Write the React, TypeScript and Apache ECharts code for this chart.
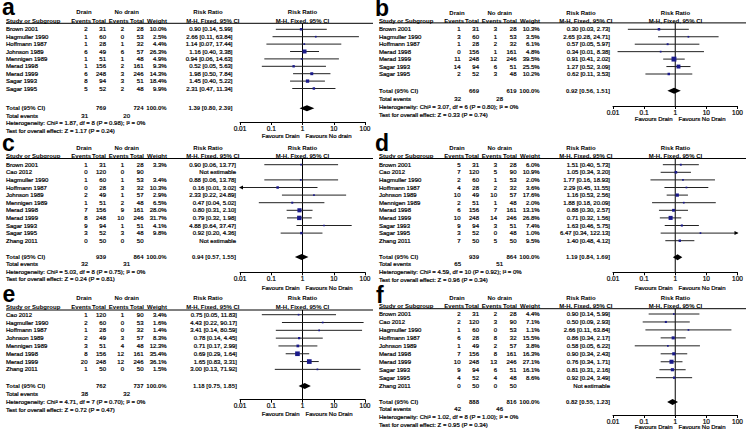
import React, { useEffect, useRef } from "react";
import * as echarts from "echarts";

// ---------------- DATA ----------------
// Panel a
const A_study = ["Brown 2001", "Hagmuller 1990", "Hoffmann 1987", "Johnson 1989", "Mennigen 1989", "Merad 1998", "Merad 1999", "Sagar 1993", "Sagar 1995"];
const A_drainEv = [2, 1, 1, 6, 1, 1, 6, 8, 5];
const A_drainN = [31, 60, 28, 49, 51, 156, 248, 94, 52];
const A_noEv = [2, 0, 1, 6, 1, 2, 3, 3, 2];
const A_noN = [28, 53, 32, 57, 48, 161, 246, 51, 48];
const A_weight = [10.0, 2.5, 4.4, 26.3, 4.9, 9.3, 14.3, 18.4, 9.9];
const A_rr = [0.90, 2.66, 1.14, 1.16, 0.94, 0.52, 1.98, 1.45, 2.31];
const A_lo = [0.14, 0.11, 0.07, 0.40, 0.06, 0.05, 0.50, 0.40, 0.47];
const A_hi = [5.99, 63.84, 17.44, 3.38, 14.63, 5.63, 7.84, 5.22, 11.34];
const A_total = [769, 724, 100.0, 1.39, 0.80, 2.39]; // drain N, no-drain N, weight, RR, lo, hi
const A_events = [31, 20];
const A_het = [1.87, 8, 0.98, 0]; // chi2, df, P, I2
const A_test = [1.17, 0.24]; // Z, P

// Panel b
const B_study = ["Brown 2001", "Hagmuller 1990", "Hoffmann 1987", "Merad 1998", "Merad 1999", "Sagar 1993", "Sagar 1995"];
const B_drainEv = [1, 3, 1, 0, 11, 14, 2];
const B_drainN = [31, 60, 28, 156, 248, 94, 52];
const B_noEv = [3, 1, 2, 1, 12, 6, 3];
const B_noN = [28, 53, 32, 161, 246, 51, 48];
const B_weight = [10.3, 3.5, 6.1, 4.8, 39.5, 25.5, 10.2];
const B_rr = [0.30, 2.65, 0.57, 0.34, 0.91, 1.27, 0.62];
const B_lo = [0.03, 0.28, 0.05, 0.014, 0.41, 0.52, 0.11];
const B_hi = [2.73, 24.71, 5.97, 8.38, 2.02, 3.09, 3.53];
const B_total = [669, 619, 100.0, 0.92, 0.56, 1.51];
const B_events = [32, 28];
const B_het = [3.07, 6, 0.80, 0];
const B_test = [0.33, 0.74];

// Panel c
const C_study = ["Brown 2001", "Cao 2012", "Hagmuller 1990", "Hoffmann 1987", "Johnson 1989", "Mennigen 1989", "Merad 1998", "Merad 1999", "Sagar 1993", "Sagar 1995", "Zhang 2011"];
const C_drainEv = [1, 0, 1, 0, 2, 1, 7, 8, 9, 3, 0];
const C_drainN = [31, 120, 60, 28, 49, 51, 156, 248, 94, 52, 50];
const C_noEv = [1, 0, 1, 3, 1, 2, 9, 10, 1, 3, 0];
const C_noN = [28, 90, 53, 32, 57, 48, 161, 246, 51, 48, 50];
const C_weight = [3.3, null, 3.4, 10.3, 2.9, 6.5, 28.0, 31.7, 4.1, 9.8, null];
const C_rr = [0.90, null, 0.88, 0.16, 2.33, 0.47, 0.80, 0.79, 4.88, 0.92, null];
const C_lo = [0.06, null, 0.06, 0.0085, 0.22, 0.04, 0.31, 0.32, 0.64, 0.20, null];
const C_hi = [13.77, null, 13.78, 3.02, 24.89, 5.02, 2.10, 1.98, 37.47, 4.36, null];
const C_total = [939, 864, 100.0, 0.94, 0.57, 1.55];
const C_events = [32, 31];
const C_het = [5.03, 8, 0.75, 0];
const C_test = [0.24, 0.81];

// Panel d
const D_study = ["Brown 2001", "Cao 2012", "Hagmuller 1990", "Hoffmann 1987", "Johnson 1989", "Mennigen 1989", "Merad 1998", "Merad 1999", "Sagar 1993", "Sagar 1995", "Zhang 2011"];
const D_drainEv = [5, 7, 2, 4, 10, 2, 6, 10, 9, 3, 7];
const D_drainN = [31, 120, 60, 28, 49, 51, 156, 248, 94, 52, 50];
const D_noEv = [3, 5, 1, 2, 10, 1, 7, 14, 3, 0, 5];
const D_noN = [28, 90, 53, 32, 57, 48, 161, 246, 51, 48, 50];
const D_weight = [6.0, 10.9, 2.0, 3.6, 17.6, 2.0, 13.1, 26.8, 7.4, 1.0, 9.5];
const D_rr = [1.51, 1.05, 1.77, 2.29, 1.16, 1.88, 0.88, 0.71, 1.63, 6.47, 1.40];
const D_lo = [0.40, 0.34, 0.16, 0.45, 0.53, 0.18, 0.30, 0.32, 0.46, 0.34, 0.48];
const D_hi = [5.73, 3.20, 18.93, 11.55, 2.56, 20.09, 2.57, 1.56, 5.75, 122.13, 4.12];
const D_total = [939, 864, 100.0, 1.19, 0.84, 1.69];
const D_events = [65, 51];
const D_het = [4.59, 10, 0.92, 0];
const D_test = [0.96, 0.34];

// Panel e
const E_study = ["Cao 2012", "Hagmuller 1990", "Hoffmann 1987", "Johnson 1989", "Mennigen 1989", "Merad 1998", "Merad 1999", "Zhang 2011"];
const E_drainEv = [1, 2, 1, 2, 3, 8, 20, 1];
const E_drainN = [120, 60, 28, 49, 51, 156, 248, 50];
const E_noEv = [1, 0, 0, 3, 4, 12, 12, 0];
const E_noN = [90, 53, 32, 57, 48, 161, 246, 50];
const E_weight = [3.4, 1.6, 1.4, 8.3, 12.3, 35.4, 36.1, 1.5];
const E_rr = [0.75, 4.43, 3.41, 0.78, 0.71, 0.69, 1.65, 3.00];
const E_lo = [0.05, 0.22, 0.14, 0.14, 0.17, 0.29, 0.83, 0.13];
const E_hi = [11.83, 90.17, 80.59, 4.45, 2.99, 1.64, 3.31, 71.92];
const E_total = [762, 737, 100.0, 1.18, 0.75, 1.85];
const E_events = [38, 32];
const E_het = [4.71, 7, 0.70, 0];
const E_test = [0.72, 0.47];

// Panel f
const F_study = ["Brown 2001", "Cao 2012", "Hagmuller 1990", "Hoffmann 1987", "Johnson 1989", "Merad 1998", "Merad 1999", "Sagar 1993", "Sagar 1995", "Zhang 2011"];
const F_drainEv = [2, 2, 1, 6, 1, 7, 10, 9, 4, 0];
const F_drainN = [31, 120, 60, 28, 49, 156, 248, 94, 52, 50];
const F_noEv = [2, 3, 0, 8, 2, 8, 13, 6, 4, 0];
const F_noN = [28, 90, 53, 32, 57, 161, 246, 51, 48, 50];
const F_weight = [4.4, 7.1, 1.1, 15.5, 3.8, 16.3, 27.1, 16.1, 8.6, null];
const F_rr = [0.90, 0.50, 2.66, 0.86, 0.58, 0.90, 0.76, 0.81, 0.92, null];
const F_lo = [0.14, 0.09, 0.11, 0.34, 0.05, 0.34, 0.34, 0.31, 0.24, null];
const F_hi = [5.99, 2.93, 63.84, 2.17, 6.22, 2.43, 1.71, 2.16, 3.49, null];
const F_total = [888, 816, 100.0, 0.82, 0.55, 1.23];
const F_events = [42, 46];
const F_het = [1.02, 8, 1.00, 0];
const F_test = [0.95, 0.34];

const PANEL_LETTERS = ["a", "b", "c", "d", "e", "f"];
const FAVOURS_LEFT = "Favours Drain";
const FAVOURS_RIGHT = ["Favours No drain", "Favours No Drain", "Favours No Drain", "Favours No Drain", "Favours No Drain", "Favours No Drain"];
const AXIS_MIN = 0.01;
const AXIS_MAX = 100;

// ---------------- LAYOUT ----------------
const FONT = '"Liberation Sans", Arial, Helvetica, sans-serif';
const PLOT_LEFT = 240;
const PLOT_W = 125;
const COL = {
  name: 6, dEv: 87.5, dN: 106, nEv: 124, nN: 143.5, w: 166.7,
  totEvD: 88, totEvN: 130,
  hdrDrain: 84, hdrNo: 126.7, hdrRR: 208,
  hEvD: 91, hTotD: 106, hEvN: 128.5, hTotN: 144, hW: 167, hCI: 239.5,
};
const LAYOUT = [
  { ox: 0, lx: 2, ly: 6.5, h1: 12.3, h2: 20.7, ul: 23.3, r0: 29.3, pitch: 7.4, tot: 108.3, ev: 116, het: 123.3, test: 131, axis: 122, fav: 136, ciR: 232.5 },
  { ox: 373, lx: 375, ly: 7.5, h1: 12.7, h2: 20.7, ul: 22.9, r0: 29.3, pitch: 7.45, tot: 90.7, ev: 99.3, het: 106.7, test: 115, axis: 106, fav: 119.3, ciR: 237 },
  { ox: 0, lx: 2, ly: 143, h1: 148, h2: 156, ul: 158.5, r0: 164.7, pitch: 7.6, tot: 257, ev: 264.3, het: 271.7, test: 279.3, axis: 272.3, fav: 287.5, ciR: 236 },
  { ox: 373, lx: 375, ly: 143.3, h1: 148, h2: 156, ul: 158.5, r0: 164.7, pitch: 7.6, tot: 257.3, ev: 264.3, het: 272, test: 279.7, axis: 272.3, fav: 287.5, ciR: 237 },
  { ox: 0, lx: 2.5, ly: 294, h1: 298, h2: 307, ul: 310, r0: 314.7, pitch: 7.81, tot: 386, ev: 394, het: 402, test: 410, axis: 399.7, fav: 413.7, ciR: 237 },
  { ox: 373, lx: 376, ly: 295, h1: 298, h2: 306.3, ul: 308.7, r0: 314, pitch: 7.96, tot: 402, ev: 409, het: 416.7, test: 424.7, axis: 415, fav: 427.3, ciR: 237 },
];

type Panel = {
  study: string[]; dEv: number[]; dN: number[]; nEv: number[]; nN: number[];
  w: (number | null)[]; rr: (number | null)[]; lo: (number | null)[]; hi: (number | null)[];
  total: number[]; events: number[]; het: number[]; test: number[];
};

const PANELS: Panel[] = [
  { study: A_study, dEv: A_drainEv, dN: A_drainN, nEv: A_noEv, nN: A_noN, w: A_weight, rr: A_rr, lo: A_lo, hi: A_hi, total: A_total, events: A_events, het: A_het, test: A_test },
  { study: B_study, dEv: B_drainEv, dN: B_drainN, nEv: B_noEv, nN: B_noN, w: B_weight, rr: B_rr, lo: B_lo, hi: B_hi, total: B_total, events: B_events, het: B_het, test: B_test },
  { study: C_study, dEv: C_drainEv, dN: C_drainN, nEv: C_noEv, nN: C_noN, w: C_weight, rr: C_rr, lo: C_lo, hi: C_hi, total: C_total, events: C_events, het: C_het, test: C_test },
  { study: D_study, dEv: D_drainEv, dN: D_drainN, nEv: D_noEv, nN: D_noN, w: D_weight, rr: D_rr, lo: D_lo, hi: D_hi, total: D_total, events: D_events, het: D_het, test: D_test },
  { study: E_study, dEv: E_drainEv, dN: E_drainN, nEv: E_noEv, nN: E_noN, w: E_weight, rr: E_rr, lo: E_lo, hi: E_hi, total: E_total, events: E_events, het: E_het, test: E_test },
  { study: F_study, dEv: F_drainEv, dN: F_drainN, nEv: F_noEv, nN: F_noN, w: F_weight, rr: F_rr, lo: F_lo, hi: F_hi, total: F_total, events: F_events, het: F_het, test: F_test },
];

const ciText = (r: number, l: number, h: number) => `${r.toFixed(2)} [${l.toFixed(2)}, ${h.toFixed(2)}]`;

function textEl(s: string, x: number, y: number, align: string, bold = false, size = 6) {
  const style: any = {
    text: s, font: `${bold ? "bold " : ""}${size}px ${FONT}`, fill: "#000",
    align, verticalAlign: "middle", textAlign: align, textVerticalAlign: "middle",
  };
  if (!bold) {
    style.stroke = "#000";
    style.lineWidth = 0.22;
  }
  return { type: "text", x, y, silent: true, style };
}

function buildOption() {
  const grid: any[] = [];
  const xAxis: any[] = [];
  const yAxis: any[] = [];
  const series: any[] = [];
  const elements: any[] = [];

  PANELS.forEach((P, p) => {
    const L = LAYOUT[p];
    const n = P.study.length;
    const ymin = -(L.r0 - L.ul) / L.pitch;
    const ymax = ymin + (L.axis - L.ul) / L.pitch;
    const tIdx = (L.tot - L.r0) / L.pitch;

    grid.push({ left: L.ox + PLOT_LEFT, top: L.ul, width: PLOT_W, height: L.axis - L.ul });
    xAxis.push({
      type: "log", logBase: 10, gridIndex: p, min: AXIS_MIN, max: AXIS_MAX, splitNumber: 4,
      axisLine: { show: true, onZero: false, lineStyle: { color: "#000", width: 1 } },
      axisTick: { show: true, length: 3, lineStyle: { color: "#000", width: 1 } },
      axisLabel: {
        show: true, fontSize: 6.5, color: "#000", margin: 2.5, fontFamily: FONT,
        textBorderColor: "#000", textBorderWidth: 0.2,
        formatter: (v: number) => String(parseFloat(Number(v).toPrecision(3))),
      },
      splitLine: { show: false },
    });
    yAxis.push({ type: "value", gridIndex: p, inverse: true, min: ymin, max: ymax, show: false });

    // vertical line of no effect (RR = 1)
    series.push({
      type: "line", xAxisIndex: p, yAxisIndex: p, data: [[1, ymin], [1, ymax]],
      symbol: "none", silent: true, z: 1, lineStyle: { color: "#000", width: 1 },
    });

    const data: number[][] = P.study.map((_, i) => [P.rr[i] ?? 1, i]);
    data.push([P.total[3], tIdx]);

    series.push({
      type: "custom", xAxisIndex: p, yAxisIndex: p, clip: false, z: 2, silent: true,
      data,
      renderItem: (params: any, api: any) => {
        const i = params.dataIndex;
        const yv = api.value(1);
        const y = api.coord([1, yv])[1];
        const ch: any[] = [];
        const T = (s: string, cx: number, align: string, bold = false) => ch.push(textEl(s, L.ox + cx, y, align, bold));
        if (i < n) {
          T(P.study[i], COL.name, "left");
          T(String(P.dEv[i]), COL.dEv, "right");
          T(String(P.dN[i]), COL.dN, "right");
          T(String(P.nEv[i]), COL.nEv, "right");
          T(String(P.nN[i]), COL.nN, "right");
          const rr = P.rr[i], lo = P.lo[i], hi = P.hi[i], w = P.w[i];
          if (rr == null || lo == null || hi == null || w == null) {
            T("Not estimable", L.ciR, "right");
          } else {
            T(w.toFixed(1) + "%", COL.w, "right");
            T(ciText(rr, lo, hi), L.ciR, "right");
            const xl = api.coord([Math.max(lo, AXIS_MIN), yv])[0];
            const xh = api.coord([Math.min(hi, AXIS_MAX), yv])[0];
            ch.push({ type: "line", shape: { x1: xl, y1: y, x2: xh, y2: y }, style: { stroke: "#222", lineWidth: 1 } });
            if (hi > AXIS_MAX) {
              ch.push({ type: "polygon", shape: { points: [[xh + 1, y], [xh - 3, y - 2], [xh - 3, y + 2]] }, style: { fill: "#000" } });
            }
            if (lo < AXIS_MIN) {
              ch.push({ type: "polygon", shape: { points: [[xl - 1, y], [xl + 3, y - 2], [xl + 3, y + 2]] }, style: { fill: "#000" } });
            }
            const xr = api.coord([rr, yv])[0];
            const s = Math.max(1.7, 0.78 * Math.sqrt(w));
            ch.push({ type: "rect", shape: { x: xr - s / 2, y: y - s / 2, width: s, height: s }, style: { fill: "#1a1a8a" } });
          }
        } else {
          T("Total (95% CI)", COL.name, "left", true);
          T(String(P.total[0]), COL.dN, "right", true);
          T(String(P.total[1]), COL.nN, "right", true);
          T(P.total[2].toFixed(1) + "%", COL.w, "right", true);
          T(ciText(P.total[3], P.total[4], P.total[5]), L.ciR, "right", true);
          const xl = api.coord([P.total[4], yv])[0];
          const xh = api.coord([P.total[5], yv])[0];
          const xr = api.coord([P.total[3], yv])[0];
          ch.push({ type: "polygon", shape: { points: [[xl, y], [xr, y - 3], [xh, y], [xr, y + 3]] }, style: { fill: "#000" } });
        }
        return { type: "group", children: ch };
      },
    });

    // headers / footers / decoration
    const ox = L.ox;
    const x1 = ox + PLOT_LEFT + PLOT_W / 2;
    elements.push({
      type: "text", x: L.lx, y: L.ly, silent: true,
      style: {
        text: PANEL_LETTERS[p], font: `bold 23px ${FONT}`, lineHeight: 12, fill: "#000",
        align: "left", verticalAlign: "middle", textAlign: "left", textVerticalAlign: "middle",
      },
    });
    elements.push(textEl("Drain", ox + COL.hdrDrain, L.h1, "center", true));
    elements.push(textEl("No drain", ox + COL.hdrNo, L.h1, "center", true));
    elements.push(textEl("Risk Ratio", ox + COL.hdrRR, L.h1, "center", true));
    elements.push(textEl("Risk Ratio", x1, L.h1, "center", true));
    elements.push(textEl("Study or Subgroup", ox + COL.name, L.h2, "left", true));
    elements.push(textEl("Events", ox + COL.hEvD, L.h2, "right", true));
    elements.push(textEl("Total", ox + COL.hTotD, L.h2, "right", true));
    elements.push(textEl("Events", ox + COL.hEvN, L.h2, "right", true));
    elements.push(textEl("Total", ox + COL.hTotN, L.h2, "right", true));
    elements.push(textEl("Weight", ox + COL.hW, L.h2, "right", true));
    elements.push(textEl("M-H, Fixed, 95% CI", ox + COL.hCI, L.h2, "right", true));
    elements.push(textEl("M-H, Fixed, 95% CI", x1, L.h2, "center", true));
    elements.push({
      type: "line", silent: true,
      shape: { x1: ox + COL.name, y1: L.ul, x2: ox + 373, y2: L.ul },
      style: { stroke: "#000", lineWidth: 1 },
    });
    elements.push(textEl("Total events", ox + COL.name, L.ev, "left"));
    elements.push(textEl(String(P.events[0]), ox + COL.totEvD, L.ev, "right"));
    elements.push(textEl(String(P.events[1]), ox + COL.totEvN, L.ev, "right"));
    elements.push(textEl(
      `Heterogeneity: Chi² = ${P.het[0].toFixed(2)}, df = ${P.het[1]} (P = ${P.het[2].toFixed(2)}); I² = ${P.het[3]}%`,
      ox + COL.name, L.het, "left"));
    elements.push(textEl(`Test for overall effect: Z = ${P.test[0].toFixed(2)} (P = ${P.test[1].toFixed(2)})`, ox + COL.name, L.test, "left"));
    elements.push(textEl(FAVOURS_LEFT, x1 - 3, L.fav, "right"));
    elements.push(textEl(FAVOURS_RIGHT[p], x1 + 3, L.fav, "left"));
  });

  return {
    animation: false,
    backgroundColor: "#fff",
    textStyle: { fontFamily: FONT },
    grid, xAxis, yAxis, series,
    graphic: { elements },
  };
}

export default function App() {
  const ref = useRef<HTMLDivElement>(null);
  useEffect(() => {
    document.body.style.margin = "0";
    if (!ref.current) return;
    const chart = echarts.init(ref.current, null, { renderer: "svg" });
    chart.setOption(buildOption() as any);
    return () => chart.dispose();
  }, []);
  return <div ref={ref} style={{ width: 746, height: 432 }} />;
}
